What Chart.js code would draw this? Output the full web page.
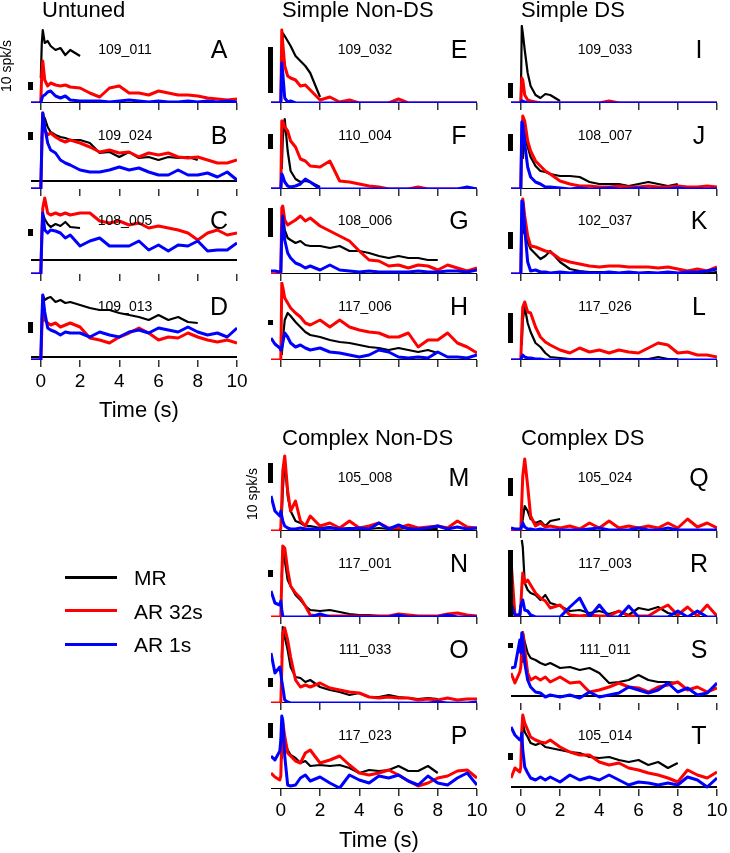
<!DOCTYPE html>
<html>
<head>
<meta charset="utf-8">
<script src="https://cdn.jsdelivr.net/npm/chart.js@4.4.1/dist/chart.umd.min.js"></script>
<style>
  body { margin: 0; background: #fff; }
  #fig { position: relative; width: 730px; height: 853px; overflow: hidden;
         font-family: "Liberation Sans", Arial, sans-serif; color: #000; }
  #fig canvas { position: absolute; }
  .txt { position: absolute; white-space: nowrap; line-height: 1; }
  .key { position: absolute; height: 3px; }
</style>
</head>
<body>
<div id="fig"></div>
<script>
const NA = null;

// time axis (s) shared by every trace
const timeS = [-0.5, -0.3, -0.05, 0, 0.05, 0.1, 0.2, 0.35, 0.5, 0.75, 1, 1.25, 1.5, 2, 2.5,
               3, 3.5, 4, 4.5, 5, 5.5, 6, 6.5, 7, 7.5, 8, 8.5, 9, 9.5, 10];
const tickVals = [0, 2, 4, 6, 8, 10];

// Untuned
const mrA   = [NA,NA,NA,25,60,73,60,62,57,53,55,48,53,47];
const ar32A = [0,0,0,2,30,42,23,17,20,18,17,18,16,15,10,6,15,17,10,10,8,12,10,8,8,7,5,4,3,4];
const ar1A  = [0,0,0,0,4,7,8,11,12,7,5,7,3,2,2,2,1,2,3,2,1,2,1,1,2,1,2,1,2,1];
const mrB   = [NA,NA,NA,NA,50,74,71,62,57,54,52,51,49,49,46,36,37,32,37,31,32,29,32,31,32,29];
const ar32B = [0,0,0,0,40,76,59,54,56,52,49,47,49,46,42,37,39,36,37,32,36,34,36,32,31,32,29,26,26,29];
const ar1B  = [0,0,0,0,45,76,62,46,39,36,29,26,24,19,17,17,19,22,19,21,17,14,14,19,14,14,16,12,17,9];
const mrC   = [NA,NA,NA,NA,NA,60,55,50,47,50,48,52,47,46];
const ar32C = [0,0,0,0,40,66,76,61,59,61,59,61,59,61,61,53,51,53,49,51,46,48,46,44,41,34,41,44,39,41];
const ar1C  = [0,0,0,0,35,61,44,41,44,43,41,36,39,28,33,36,28,28,28,33,24,29,23,29,28,33,23,24,24,31];
const mrD   = [NA,NA,NA,NA,40,65,60,62,63,58,60,57,58,55,52,50,50,47,45,43,40,45,40,43,38,37];
const ar32D = [0,0,0,0,30,47,40,37,35,37,33,35,37,33,22,20,17,23,27,32,27,20,23,22,27,23,20,18,20,17];
const ar1D  = [0,0,0,0,40,65,48,32,30,28,25,28,27,27,23,28,25,23,28,30,27,32,30,28,33,28,25,27,23,32];

// Simple Non-DS
const mrE   = [NA,NA,NA,NA,40,70,67,62,57,47,42,37,30,6];
const ar32E = [0,0,0,0,73,60,37,27,25,23,17,18,13,3,6,1,3,0,0,0,0,4,0,0,0,0,0,0,0,0];
const ar1E  = [0,0,0,0,40,30,5,1,2,0,0,0,0,0,0,0,0,0,0,0,0,0,0,0,0,0,0,0,0,0];
const mrF   = [NA,NA,NA,NA,20,50,70,38,18,10,7,8,7,2];
const ar32F = [0,0,0,0,68,68,62,58,48,42,30,28,23,22,28,8,7,5,3,2,0,0,0,2,0,0,0,0,0,0];
const ar1F  = [0,0,0,0,15,13,7,3,2,3,5,10,7,0,0,0,0,0,0,0,0,0,0,0,0,0,0,0,2,0];
const mrG   = [NA,NA,NA,NA,40,64,44,36,34,31,33,29,28,28,26,28,23,23,21,18,16,18,16,16,14,14];
const ar32G = [0,0,0,0,66,68,54,49,51,54,58,53,56,48,43,38,33,23,14,13,8,9,6,9,8,4,9,6,3,6];
const ar1G  = [3,3,2,2,40,58,34,21,16,11,9,6,8,4,9,4,3,2,3,2,2,2,2,3,2,2,3,3,2,4];
const mrH   = [NA,NA,NA,NA,5,20,40,47,44,38,33,28,25,23,20,18,17,15,13,12,10,12,10,8,10,7];
const ar32H = [0,0,0,0,77,73,62,57,52,47,43,37,35,40,33,40,33,30,28,27,23,23,27,13,20,20,27,17,13,7];
const ar1H  = [22,16,12,10,12,17,27,23,17,13,15,12,10,12,8,7,5,3,5,10,8,3,2,3,2,8,3,3,2,5];

// Simple DS
const mrI   = [NA,NA,NA,0,77,70,53,30,17,8,5,9,8,2];
const ar32I = [0,0,0,0,25,23,8,3,2,1,0,0,0,0,0,0,0,0,2,0,0,0,0,0,0,0,0,0,0,0];
const ar1I  = [0,0,0,0,2,2,1,0,0,0,0,0,0,0,0,0,0,0,0,0,0,0,0,0,0,0,0,0,0,0];
const mrJ   = [NA,NA,NA,NA,NA,30,55,42,32,23,18,17,15,13,13,12,7,5,5,5,3,5,7,5,3,5];
const ar32J = [0,0,0,0,50,73,68,48,38,28,23,18,15,8,5,3,3,2,2,3,2,2,3,2,2,3,2,2,3,2];
const ar1J  = [0,0,0,0,67,65,45,22,12,7,5,2,2,1,0,1,0,0,1,0,0,1,0,0,0,1,0,0,0,0];
const mrK   = [NA,NA,NA,NA,NA,40,55,32,25,20,15,18,23,12,5,3,2,2,2,1,2,1,2,1,2,1,1,2,1,2];
const ar32K = [0,0,0,0,50,75,58,38,28,27,25,23,22,15,12,10,8,7,8,8,7,7,7,6,7,5,3,5,3,7];
const ar1K  = [0,0,0,0,73,72,45,12,3,4,2,2,1,2,1,2,1,1,2,1,2,1,1,1,2,1,2,2,3,5];
const mrL   = [NA,NA,NA,NA,15,40,53,37,28,17,13,7,3,2,1,1,1,1,1,1,1,1,1,3,1,1];
const ar32L = [0,0,0,0,30,53,58,48,47,33,23,18,15,10,7,12,8,10,7,10,8,7,12,17,15,7,8,5,5,3];
const ar1L  = [0,0,0,0,3,5,3,2,2,1,1,0,0,0,0,0,0,0,0,0,0,0,0,0,0,0,0,0,0,0];

// Complex Non-DS
const mrM   = [NA,NA,NA,NA,15,40,70,35,20,10,8,5,5,3,4,2,3,2,2,3,2,2,3,2,2,2];
const ar32M = [0,0,0,3,30,60,75,40,20,30,10,5,15,5,8,3,10,3,5,8,3,3,6,3,4,5,3,10,4,3];
const ar1M  = [35,20,15,20,15,10,5,3,2,2,3,2,2,2,3,2,2,3,2,8,2,6,2,2,3,5,2,4,2,3];
const mrN   = [NA,NA,NA,NA,40,67,57,37,31,22,17,11,7,6,7,5,3,2,2,1,1,1,1,1,1,1];
const ar32N = [0,0,0,0,40,71,69,47,31,24,19,11,2,1,1,1,1,1,1,1,1,3,2,1,1,1,3,4,2,1];
const ar1N  = [26,14,12,16,7,1,0,0,0,0,0,0,0,3,0,0,0,0,0,0,0,2,0,0,0,0,2,0,0,0];
const mrO   = [NA,NA,NA,NA,45,76,66,53,36,26,25,21,23,16,13,11,8,10,6,6,8,6,5,4,5,4];
const ar32O = [0,0,0,0,35,70,75,63,46,23,16,18,16,20,15,13,11,10,6,5,6,5,5,3,4,3,5,3,4,4];
const ar1O  = [50,30,36,30,22,16,3,1,0,0,0,0,0,0,0,0,0,0,0,0,0,0,0,0,0,1,0,0,0,1];
const mrP   = [NA,NA,NA,NA,30,53,49,39,34,31,26,28,23,24,23,24,21,16,19,18,19,23,18,18,23,16];
const ar32P = [16,12,9,13,49,66,53,36,33,28,26,36,39,26,29,33,24,16,14,16,19,14,8,3,6,11,13,18,19,11];
const ar1P  = [33,29,38,49,73,69,33,4,3,4,11,14,8,12,6,1,14,9,6,13,11,14,8,4,13,6,4,11,16,4];

// Complex DS
const mrQ   = [NA,NA,NA,NA,5,12,25,20,12,8,10,5,10,12];
const ar32Q = [0,0,0,0,30,55,72,45,15,5,8,4,5,3,5,2,8,3,10,3,5,3,5,3,8,3,12,4,8,3];
const ar1Q  = [3,2,2,2,5,8,4,2,2,1,2,1,1,1,1,1,2,3,1,1,1,3,1,1,3,1,1,1,1,1];
const mrR   = [NA,NA,NA,NA,77,70,34,27,24,22,17,22,14,11,6,7,4,6,3,6,2,9,7,10,4,2];
const ar32R = [57,2,2,11,30,44,34,37,32,24,19,16,9,12,2,1,2,1,1,6,1,1,1,7,12,2,10,1,12,1];
const ar1R  = [14,2,2,11,14,17,7,6,2,0,0,0,0,0,10,19,0,12,0,0,11,0,0,0,0,6,0,6,0,0];
const mrS   = [NA,NA,NA,NA,40,71,61,50,45,43,40,38,40,35,36,33,35,30,20,21,23,28,23,21,21,20];
const ar32S = [30,20,31,36,55,70,53,30,23,26,23,26,21,26,20,21,11,13,16,20,16,15,11,16,18,21,13,16,11,15];
const ar1S  = [35,36,63,50,70,63,40,23,16,11,10,6,8,6,8,5,11,6,8,10,16,13,10,13,20,11,15,8,10,20];
const mrT   = [NA,NA,NA,NA,40,66,57,52,46,44,46,42,41,39,37,36,32,31,32,29,27,29,24,27,21,26];
const ar32T = [11,21,17,22,59,74,66,59,52,49,47,46,49,42,37,34,34,27,24,26,21,19,16,14,11,7,19,14,11,17];
const ar1T  = [62,54,49,49,56,39,22,16,11,9,12,9,12,7,14,9,12,9,14,9,4,7,6,4,6,4,12,9,2,11];

const cellIds = ["109_011","109_024","108_005","109_013","109_032","110_004","108_006","117_006",
                 "109_033","108_007","102_037","117_026","105_008","117_001","111_033","117_023",
                 "105_024","117_003","111_011","105_014"];
const panelLetters = "ABCDEFGHIJKLMNOPQRST".split("");
const mrSeries   = [mrA,mrB,mrC,mrD,mrE,mrF,mrG,mrH,mrI,mrJ,mrK,mrL,mrM,mrN,mrO,mrP,mrQ,mrR,mrS,mrT];
const ar32Series = [ar32A,ar32B,ar32C,ar32D,ar32E,ar32F,ar32G,ar32H,ar32I,ar32J,ar32K,ar32L,
                    ar32M,ar32N,ar32O,ar32P,ar32Q,ar32R,ar32S,ar32T];
const ar1Series  = [ar1A,ar1B,ar1C,ar1D,ar1E,ar1F,ar1G,ar1H,ar1I,ar1J,ar1K,ar1L,
                    ar1M,ar1N,ar1O,ar1P,ar1Q,ar1R,ar1S,ar1T];
// spontaneous level (black reference line) and length of the 10 spk/s bar, same units as traces
const spont = [0,8,14,3, 0,0,0,0, 0,0,0,0, 0,0,0,0, 0,0,7,2];
const bar10 = [8,8,7,11, 46,15,29,5, 15,17,17,30, 20,7,9,15, 18,67,5,7];

// layout
const barBase = [13,49,38,27, 10,40,37,35, 5,38,25,17, 48,40,16,51, 35,0,55,29];
const panelCol = [0,0,0,0, 1,1,1,1, 2,2,2,2, 1,1,1,1, 2,2,2,2];
const colLeft = [31, 271, 511];
const rowAxisTop = [103, 189, 274, 360];
const rowAxisBottom = [531, 617, 703, 789];
const labeledPanels = [3, 15, 19];
const PLOT_W = 206, PLOT_H = 78, PAD_L = 14, PAD_R = 14, PAD_T = 6;
const FONT = '"Liberation Sans", Arial, sans-serif';

const fig = document.getElementById("fig");

function addText(str, x, y, size, align, rotate) {
  const d = document.createElement("div");
  d.className = "txt";
  d.textContent = str;
  d.style.left = x + "px";
  d.style.top = y + "px";
  d.style.fontSize = size + "px";
  d.style.transform = (align === "left" ? "translate(0,-50%)" : "translate(-50%,-50%)") +
                      (rotate ? " rotate(-90deg)" : "");
  fig.appendChild(d);
}

const scaleBar = {
  id: "scaleBar",
  afterDatasetsDraw(chart, args, opts) {
    const { ctx, chartArea, scales } = chart;
    const i = opts.index;
    const yTop = scales.y.getPixelForValue(barBase[i] + bar10[i]);
    const yBot = scales.y.getPixelForValue(barBase[i]);
    ctx.save();
    ctx.fillStyle = "#000";
    ctx.fillRect(chartArea.left - 3, yTop, 5, yBot - yTop);
    ctx.restore();
  }
};

const pts = arr => timeS.map((t, k) => ({ x: t, y: arr[k] ?? null }));

cellIds.forEach((cid, i) => {
  const col = panelCol[i];
  const axisY = (i < 12 ? rowAxisTop : rowAxisBottom)[i % 4];
  const labeled = labeledPanels.includes(i);
  const axisH = labeled ? 33 : 9;

  const cv = document.createElement("canvas");
  cv.width = PLOT_W + PAD_L + PAD_R;
  cv.height = PAD_T + PLOT_H + axisH;
  cv.style.left = (colLeft[col] - PAD_L) + "px";
  cv.style.top = (axisY - PLOT_H - PAD_T) + "px";
  fig.appendChild(cv);

  const line = (label, data, color, w) => ({
    label, data, borderColor: color, borderWidth: w, pointRadius: 0,
    tension: 0, borderJoinStyle: "round", spanGaps: false
  });

  new Chart(cv, {
    type: "line",
    data: {
      datasets: [
        line("AR 1s", pts(ar1Series[i]), "#0000ff", 3),
        line("AR 32s", pts(ar32Series[i]), "#ff0000", 3),
        line("MR", pts(mrSeries[i]), "#000000", 2.2),
        line("Spont", [{ x: -0.5, y: spont[i] }, { x: 10, y: spont[i] }], "#000000", 2)
      ]
    },
    options: {
      responsive: false,
      animation: false,
      layout: { padding: { left: PAD_L, right: PAD_R, top: PAD_T, bottom: 0 } },
      plugins: { legend: { display: false }, tooltip: { enabled: false }, scaleBar: { index: i } },
      scales: {
        x: {
          type: "linear", min: -0.5, max: 10,
          afterBuildTicks: s => { s.ticks = tickVals.map(v => ({ value: v })); },
          afterFit: s => { s.height = axisH; s.paddingLeft = 0; s.paddingRight = 0; },
          border: { display: false },
          grid: { drawOnChartArea: false, drawTicks: true, tickLength: 7, color: "#333", lineWidth: 1.5 },
          ticks: { display: labeled, color: "#000", padding: 3, maxRotation: 0, autoSkip: false,
                   font: { family: FONT, size: 19 } }
        },
        y: { display: false, min: 0, max: PLOT_H }
      }
    },
    plugins: [scaleBar]
  });

  addText(cid, colLeft[col] + 94, axisY - 54, 14);
  addText(panelLetters[i], colLeft[col] + 188, axisY - 54, 25);
});

// column titles
addText("Untuned", 42, 10, 22, "left");
addText("Simple Non-DS", 282, 10, 22, "left");
addText("Simple DS", 521, 10, 22, "left");
addText("Complex Non-DS", 282, 438, 22, "left");
addText("Complex DS", 521, 438, 22, "left");

// axis captions
addText("10 spk/s", 6, 66, 14, "center", true);
addText("10 spk/s", 252, 494, 14, "center", true);
addText("Time (s)", colLeft[0] + 108, 410, 22);
addText("Time (s)", colLeft[1] + 108, 840, 22);

// legend
const legendNames = ["MR", "AR 32s", "AR 1s"];
const legendColors = ["#000000", "#ff0000", "#0000ff"];
legendNames.forEach((name, k) => {
  const y = 577 + k * 33.5;
  const key = document.createElement("div");
  key.className = "key";
  key.style.left = "65px";
  key.style.width = "52px";
  key.style.top = (y - 1.5) + "px";
  key.style.background = legendColors[k];
  fig.appendChild(key);
  addText(name, 134, y, 21, "left");
});
</script>
</body>
</html>
